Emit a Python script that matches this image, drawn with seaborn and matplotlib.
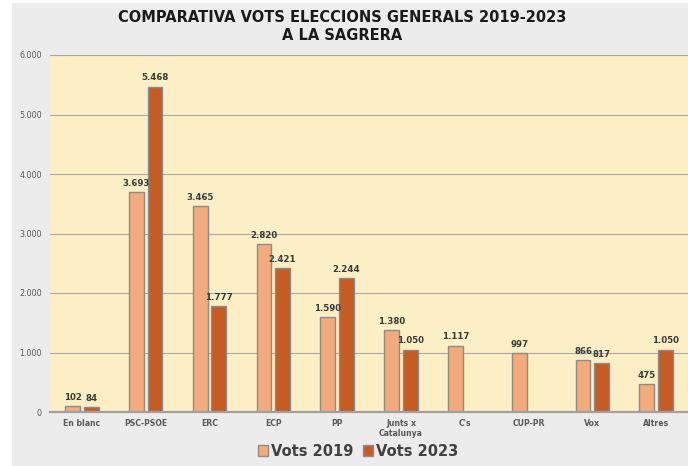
import pandas as pd
import matplotlib.pyplot as plt
import seaborn as sns
from matplotlib.patches import Rectangle

# Data
partits = ["En blanc", "PSC-PSOE", "ERC", "ECP", "PP", "Junts x\nCatalunya",
           "C's", "CUP-PR", "Vox", "Altres"]
vots_2019 = [102, 3693, 3465, 2820, 1590, 1380, 1117, 997, 866, 475]
vots_2023 = [84, 5468, 1777, 2421, 2244, 1050, None, None, 817, 1050]
series = ["Vots 2019", "Vots 2023"]
colors = ["#f4ab7c", "#c55c24"]
y_ticks = [0, 1000, 2000, 3000, 4000, 5000, 6000]

rows = []
for p, a, b in zip(partits, vots_2019, vots_2023):
    rows.append({"partit": p, "serie": series[0], "vots": a})
    if b is not None:
        rows.append({"partit": p, "serie": series[1], "vots": b})
df = pd.DataFrame(rows)


def fmt(v):
    return f"{int(round(v)):,}".replace(",", ".")


sns.set_style("white")
plt.rcParams['font.family'] = ['DejaVu Sans']

fig = plt.figure(figsize=(6.88, 4.66), dpi=100, facecolor="#ececec")
fig.patches.append(Rectangle((0, 0), 12 / 688, 1, transform=fig.transFigure,
                             facecolor="white", edgecolor="none", zorder=-1))
fig.patches.append(Rectangle((0, 1 - 3 / 466), 1, 3 / 466, transform=fig.transFigure,
                             facecolor="white", edgecolor="none", zorder=-1))
ax = fig.add_axes([50 / 688, 1 - 412 / 466, 638 / 688, 357 / 466])
ax.set_facecolor("#fdefc5")

sns.barplot(data=df, x="partit", y="vots", hue="serie", order=partits,
            hue_order=series, palette=colors, width=0.58, gap=0.2,
            edgecolor="#8c8c8c", linewidth=1.0, saturation=1, ax=ax,
            legend=True, zorder=3)

for cont in ax.containers:
    ax.bar_label(cont, labels=[fmt(h) for h in cont.datavalues], padding=3,
                 fontsize=6.2, fontweight="bold", color="#3a3a3a")

ax.set_xlim(-0.5, 9.5)
ax.set_ylim(0, 6000)
ax.set_yticks(y_ticks)
ax.set_yticklabels([fmt(t) for t in y_ticks])
ax.grid(axis="y", color="#a8a8a8", linewidth=0.8, zorder=0)
ax.set_axisbelow(True)
for s in ["top", "right", "left"]:
    ax.spines[s].set_visible(False)
ax.spines["bottom"].set_color("#a0a0a0")
ax.spines["bottom"].set_linewidth(1.6)
ax.spines["bottom"].set_zorder(4)
ax.tick_params(axis="both", length=0)
ax.tick_params(axis="y", labelsize=5.8, labelcolor="#595959", pad=6)
ax.tick_params(axis="x", labelsize=5.6, labelcolor="#595959", pad=5)
for lab in ax.get_xticklabels():
    lab.set_fontweight("bold")
ax.set_xlabel("")
ax.set_ylabel("")

fig.text(342 / 688, 1 - 17 / 466, "COMPARATIVA VOTS ELECCIONS GENERALS 2019-2023",
         ha="center", va="center", fontsize=10.5, fontweight="bold", color="#1a1a1a")
fig.text(342 / 688, 1 - 35 / 466, "A LA SAGRERA", ha="center", va="center",
         fontsize=10.5, fontweight="bold", color="#1a1a1a")

handles, labels = ax.get_legend_handles_labels()
ax.legend_.remove()
leg = fig.legend(handles, labels, loc="center", ncol=2,
                 bbox_to_anchor=(358 / 688, 1 - 451 / 466), frameon=False,
                 handlelength=0.7, handleheight=0.7, handletextpad=0.15,
                 columnspacing=0.7, prop={"size": 10.5, "weight": "bold"})
for t in leg.get_texts():
    t.set_color("#404040")

fig.savefig("out.png", dpi=100, facecolor=fig.get_facecolor())
